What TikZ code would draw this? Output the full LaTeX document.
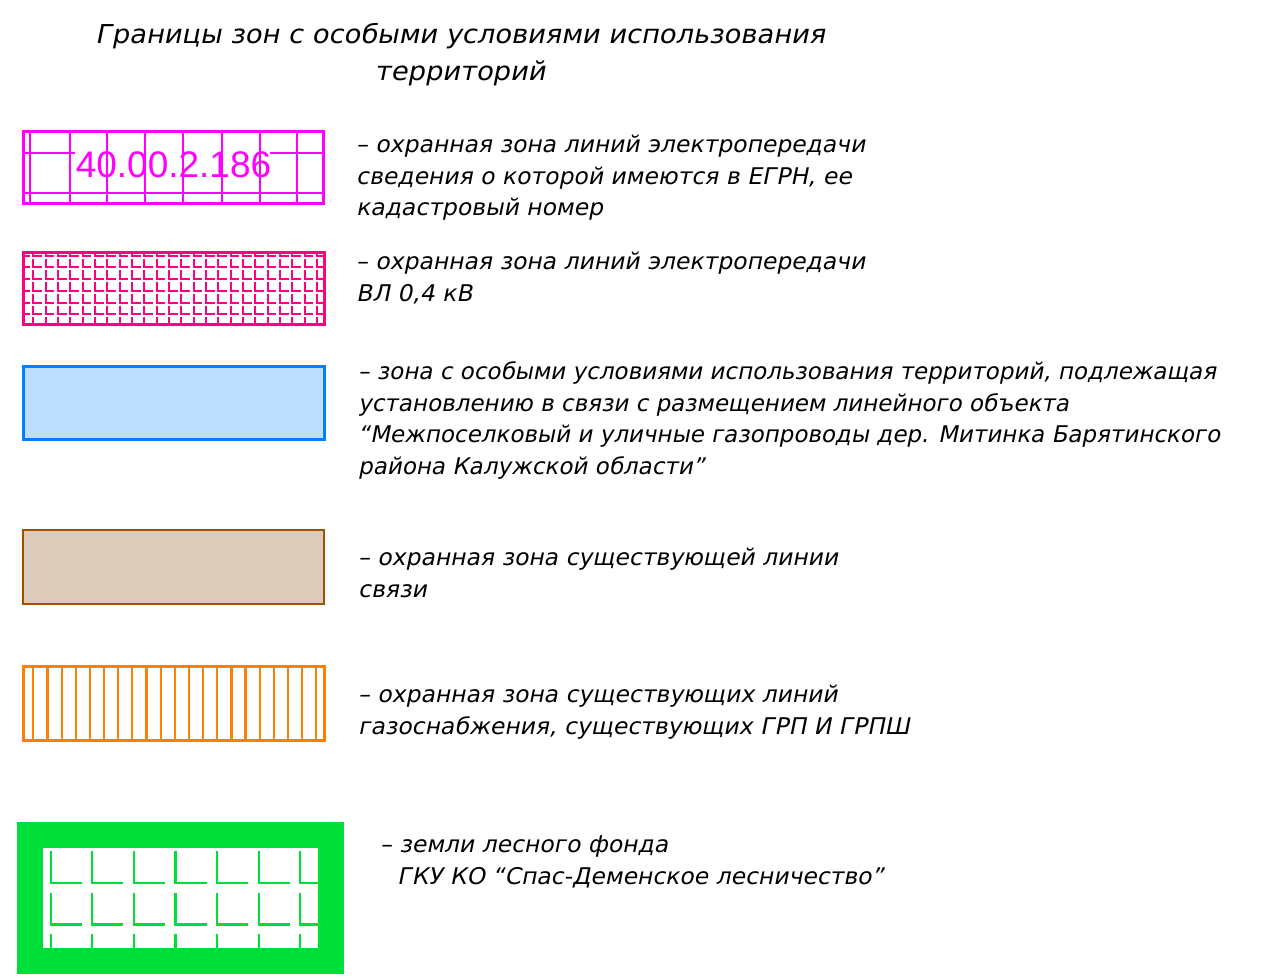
\documentclass[tikz,border=0pt]{standalone}
\usepackage{fontspec}
\setmainfont{DejaVu Sans}
\newfontfamily\gostfont{DejaVu Sans}[FakeSlant=0.2,FakeStretch=1.02]
\newfontfamily\gostnarrow{DejaVu Sans}[FakeSlant=0.2,FakeStretch=1.0]
\newfontfamily\gosttitle{DejaVu Sans}[FakeSlant=0.2,FakeStretch=1.05]
\newfontfamily\cadfont{Liberation Sans}
\usetikzlibrary{positioning}
\definecolor{zmag}{RGB}{255,0,255}
\definecolor{zpink}{RGB}{255,0,128}
\definecolor{zblue}{RGB}{0,128,255}
\definecolor{zbluefill}{RGB}{189,222,255}
\definecolor{zbrown}{RGB}{160,80,0}
\definecolor{zbrownfill}{RGB}{220,203,186}
\definecolor{zorange}{RGB}{255,128,0}
\definecolor{zgreen}{RGB}{0,222,58}

\begin{document}
\begin{tikzpicture}[x=1pt,y=-1pt,
	zonebox/.style={minimum width=301pt,minimum height=74pt,inner sep=0pt,outer sep=0pt,line width=3pt},
	legend/.style={anchor=base west,inner sep=0pt,align=left,font=\gostfont\fontsize{23}{31.5}\selectfont},
	hatch/.style={line width=2.2pt}]
	\useasboundingbox (0,0) rectangle (1274,977);

	\node[anchor=base,inner sep=0pt,align=center,font=\gosttitle\fontsize{26}{37}\selectfont] (title) at (460,80) {Границы зон с особыми условиями использования\\территорий};

	% boxes
	\node[zonebox,minimum width=300pt,minimum height=72pt,draw=zmag] (egrn) at (173.5,167.5) {};
	\node[zonebox,minimum height=72pt,draw=zpink] (vl) at (174,288.5) {};
	\node[zonebox,minimum height=73pt,draw=zblue,fill=zbluefill] (zouit) at (174,403) {};
	\node[zonebox,line width=2.5pt,draw=zbrown,fill=zbrownfill] (svyaz) at (173.5,567) {};
	\node[zonebox,draw=zorange] (gaz) at (174,703.5) {};
	\node[zonebox,minimum height=126pt,line width=26pt,draw=zgreen] (les) at (180.5,898) {};

	% grid in the cadastral box
	\node[inner sep=1pt,text=zmag,font=\cadfont\fontsize{37}{37}\selectfont] (cadnum) at (173.5,165) {40.00.2.186};
	\begin{scope}[draw=zmag,line width=2pt]
		\foreach \x in {30,70,107,145,183,222,260,297}
			\draw (\x,131.5) -- (\x,203.5);
		\draw (23.5,153) -- (75,153);
		\draw (270,153) -- (323.5,153);
		\draw (23.5,193) -- (323.5,193);
	\end{scope}

	% L pattern, VL 0.4 kV
	\begin{scope}
		\clip (25,254) rectangle (323,323);
		\foreach \i in {-1,...,24}
			\foreach \j in {0,...,6}
				\draw[zpink,line width=2pt] (33.3+12.33*\i,247+11.7*\j) -- (33.3+12.33*\i,255.7+11.7*\j) -- (42+12.33*\i,255.7+11.7*\j);
	\end{scope}

	% gas hatch
	\foreach \k in {0,...,20}
		\draw[hatch,zorange] (33.3+14.15*\k,666.5) -- (33.3+14.15*\k,740.5);

	% forest pattern
	\begin{scope}
		\clip (43,848) rectangle (318,948);
		\foreach \i in {0,...,6}
			\foreach \j in {0,...,2}
				\draw[hatch,zgreen] (50.7+41.6*\i,851+41.5*\j) -- (50.7+41.6*\i,883+41.5*\j) -- (81.7+41.6*\i,883+41.5*\j);
	\end{scope}

	% legend texts
	\node[legend,shift={(32.5,84)}] (egrntxt) at (egrn.north east) {– охранная зона линий электропередачи\\сведения о которой имеются в ЕГРН, ее\\кадастровый номер};
	\node[legend,shift={(31.5,48.5)}] (vltxt) at (vl.north east) {– охранная зона линий электропередачи\\ВЛ 0,4 кВ};
	\node[legend,font=\gostnarrow\fontsize{23}{31.5}\selectfont,shift={(33.5,107.5)}] (zouittxt) at (zouit.north east) {– зона с особыми условиями использования территорий, подлежащая\\установлению в связи с размещением линейного объекта\\“Межпоселковый и уличные газопроводы дер. Митинка Барятинского\\района Калужской области”};
	\node[legend,shift={(34,67)}] (svyaztxt) at (svyaz.north east) {– охранная зона существующей линии\\связи};
	\node[legend,shift={(33.5,67.5)}] (gaztxt) at (gaz.north east) {– охранная зона существующих линий\\газоснабжения, существующих ГРП И ГРПШ};
	\node[legend,shift={(49,49)}] (lestxt) at (les.north east) {– земли лесного фонда\\\hspace*{17pt}ГКУ КО “Спас-Деменское лесничество”};
\end{tikzpicture}
\end{document}
